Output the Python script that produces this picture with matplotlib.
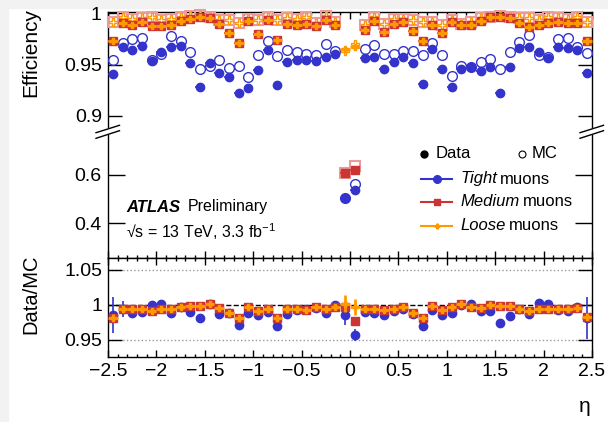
import numpy as np
import matplotlib.pyplot as plt
from matplotlib.lines import Line2D
from matplotlib.patches import Rectangle, Polygon
from matplotlib.ticker import MultipleLocator

plt.rcParams['font.family'] = ['Liberation Sans', 'DejaVu Sans']
plt.rcParams['mathtext.default'] = 'regular'

# eta bin centres (50 bins of 0.1 from -2.5 to 2.5)
eta = np.linspace(-2.45, 2.45, 50)

tight_data = [0.941, 0.967, 0.964, 0.968, 0.953, 0.962, 0.967, 0.968, 0.951, 0.928,
              0.951, 0.942, 0.938, 0.922, 0.927, 0.945, 0.964, 0.930, 0.952, 0.954,
              0.954, 0.953, 0.957, 0.960, 0.503, 0.538, 0.956, 0.957, 0.946, 0.952,
              0.957, 0.951, 0.931, 0.965, 0.946, 0.928, 0.946, 0.948, 0.944, 0.948,
              0.922, 0.948, 0.966, 0.967, 0.962, 0.956, 0.967, 0.966, 0.964, 0.942]
tight_mc = [0.954, 0.971, 0.975, 0.976, 0.954, 0.960, 0.978, 0.973, 0.962, 0.946,
            0.949, 0.954, 0.947, 0.949, 0.938, 0.959, 0.973, 0.958, 0.964, 0.962,
            0.960, 0.959, 0.970, 0.963, 0.505, 0.561, 0.965, 0.969, 0.960, 0.960,
            0.963, 0.963, 0.959, 0.971, 0.959, 0.939, 0.949, 0.948, 0.952, 0.955,
            0.946, 0.962, 0.972, 0.979, 0.959, 0.957, 0.975, 0.976, 0.967, 0.961]
medium_data = [0.973, 0.990, 0.988, 0.991, 0.987, 0.987, 0.988, 0.992, 0.994, 0.996,
               0.995, 0.989, 0.981, 0.971, 0.992, 0.980, 0.993, 0.974, 0.989, 0.988,
               0.989, 0.987, 0.993, 0.988, 0.607, 0.621, 0.984, 0.992, 0.982, 0.989,
               0.991, 0.983, 0.973, 0.988, 0.981, 0.991, 0.988, 0.988, 0.992, 0.996,
               0.996, 0.995, 0.990, 0.986, 0.988, 0.990, 0.991, 0.990, 0.990, 0.973]
medium_mc = [0.991, 0.996, 0.994, 0.995, 0.996, 0.993, 0.994, 0.996, 0.997, 0.998,
             0.996, 0.993, 0.993, 0.990, 0.994, 0.993, 0.996, 0.993, 0.995, 0.994,
             0.996, 0.990, 0.997, 0.991, 0.607, 0.638, 0.988, 0.996, 0.989, 0.994,
             0.994, 0.993, 0.991, 0.991, 0.988, 0.993, 0.989, 0.991, 0.995, 0.996,
             0.997, 0.996, 0.995, 0.995, 0.993, 0.996, 0.995, 0.994, 0.996, 0.991]
loose_data = [0.973, 0.990, 0.988, 0.991, 0.987, 0.987, 0.988, 0.992, 0.994, 0.996,
              0.995, 0.989, 0.981, 0.971, 0.992, 0.980, 0.993, 0.974, 0.989, 0.988,
              0.989, 0.987, 0.993, 0.988, 0.965, 0.967, 0.984, 0.992, 0.982, 0.989,
              0.991, 0.983, 0.973, 0.988, 0.981, 0.991, 0.988, 0.988, 0.992, 0.996,
              0.996, 0.995, 0.990, 0.986, 0.988, 0.990, 0.991, 0.990, 0.990, 0.973]
loose_mc = [0.991, 0.996, 0.994, 0.995, 0.996, 0.993, 0.994, 0.996, 0.997, 0.998,
            0.996, 0.993, 0.993, 0.990, 0.994, 0.993, 0.996, 0.993, 0.995, 0.994,
            0.996, 0.990, 0.997, 0.991, 0.963, 0.970, 0.988, 0.996, 0.989, 0.994,
            0.994, 0.993, 0.991, 0.991, 0.988, 0.993, 0.989, 0.991, 0.995, 0.996,
            0.997, 0.996, 0.995, 0.995, 0.993, 0.996, 0.995, 0.994, 0.996, 0.991]

tight_ratio = [0.986, 0.994, 0.988, 0.990, 1.000, 1.002, 0.989, 0.997, 0.990, 0.981,
               1.002, 0.987, 0.989, 0.972, 0.988, 0.985, 0.990, 0.970, 0.987, 0.993,
               0.994, 0.995, 0.988, 1.000, 0.986, 0.957, 0.990, 0.989, 0.986, 0.992,
               0.994, 0.987, 0.970, 0.993, 0.986, 0.988, 1.000, 1.001, 0.992, 0.992,
               0.974, 0.984, 0.994, 0.987, 1.003, 1.001, 0.993, 0.991, 0.997, 0.982]
tight_ratio_err = [0.026, 0.011, 0.004, 0.003, 0.003, 0.003, 0.003, 0.003, 0.003, 0.003,
                   0.003, 0.003, 0.003, 0.003, 0.003, 0.003, 0.003, 0.003, 0.003, 0.003,
                   0.003, 0.003, 0.003, 0.003, 0.015, 0.008, 0.003, 0.003, 0.003, 0.003,
                   0.003, 0.003, 0.003, 0.003, 0.003, 0.003, 0.003, 0.003, 0.003, 0.003,
                   0.003, 0.003, 0.003, 0.003, 0.003, 0.003, 0.003, 0.004, 0.006, 0.030]
medium_ratio = [0.982, 0.994, 0.994, 0.994, 0.992, 0.994, 0.994, 0.997, 0.998, 0.998,
                1.002, 0.995, 0.989, 0.981, 0.997, 0.992, 0.994, 0.981, 0.994, 0.994,
                0.993, 0.997, 0.994, 0.997, 0.997, 0.977, 0.994, 0.994, 0.993, 0.994,
                0.997, 0.988, 0.981, 0.998, 0.993, 0.997, 1.001, 0.997, 0.995, 1.000,
                0.999, 0.998, 0.994, 0.992, 0.994, 0.994, 0.994, 0.994, 0.995, 0.983]
loose_ratio = [0.982, 0.994, 0.994, 0.994, 0.992, 0.994, 0.994, 0.997, 0.998, 0.998,
               1.002, 0.995, 0.989, 0.981, 0.997, 0.992, 0.994, 0.981, 0.994, 0.994,
               0.993, 0.997, 0.994, 0.997, 1.002, 0.997, 0.994, 0.994, 0.993, 0.994,
               0.997, 0.988, 0.981, 0.998, 0.993, 0.997, 1.001, 0.997, 0.995, 1.000,
               0.999, 0.998, 0.994, 0.992, 0.994, 0.994, 0.994, 0.994, 0.995, 0.983]
loose_ratio_err = [0.005, 0.003, 0.002, 0.002, 0.002, 0.002, 0.002, 0.002, 0.002, 0.002,
                   0.002, 0.002, 0.002, 0.002, 0.002, 0.002, 0.002, 0.002, 0.002, 0.002,
                   0.002, 0.002, 0.002, 0.002, 0.012, 0.011, 0.002, 0.002, 0.002, 0.002,
                   0.002, 0.002, 0.002, 0.002, 0.002, 0.002, 0.002, 0.002, 0.002, 0.002,
                   0.002, 0.002, 0.002, 0.002, 0.002, 0.002, 0.002, 0.002, 0.003, 0.005]

blue = '#3434cc'
red = '#cc3333'
orange = '#ff9900'
pink = '#ec9a9a'

W, H = 608, 422
fig = plt.figure(figsize=(W / 100, H / 100), dpi=100)


def box(x0, y0, x1, y1):
    return [x0 / W, 1 - y1 / H, (x1 - x0) / W, (y1 - y0) / H]


def p(x, y):
    return (x / W, 1 - y / H)


# page background strips
fig.add_artist(Rectangle((0, 0), 8 / W, 1, transform=fig.transFigure,
                         color='#f2f2f2', zorder=-5))
fig.add_artist(Rectangle((0, 1 - 8 / H), 1, 8 / H, transform=fig.transFigure,
                         color='#f2f2f2', zorder=-5))

ax_hi = fig.add_axes(box(108, 12, 592, 131))
ax_lo = fig.add_axes(box(108, 131, 592, 258))
ax_r = fig.add_axes(box(108, 258, 592, 357))

for ax in (ax_hi, ax_lo, ax_r):
    ax.set_xlim(-2.5, 2.5)
    ax.xaxis.set_major_locator(MultipleLocator(0.5))
    ax.xaxis.set_minor_locator(MultipleLocator(0.1))
    ax.tick_params(which='both', direction='in', top=True, right=True,
                   labelsize=14, width=1, labelbottom=False)
    ax.tick_params(axis='x', which='major', length=5)
    ax.tick_params(axis='x', which='minor', length=2.5)
    ax.tick_params(axis='y', which='major', length=10, pad=4.5)
    ax.tick_params(axis='y', which='minor', left=False, right=False)
    for s in ax.spines.values():
        s.set_linewidth(1)

ax_hi.spines['bottom'].set_visible(False)
ax_hi.tick_params(which='both', bottom=False)
ax_lo.spines['top'].set_visible(False)
ax_lo.tick_params(which='both', top=False)
ax_lo.tick_params(axis='y', length=12.5)

ax_hi.set_ylim(0.8854, 1.001)
ax_hi.set_yticks([0.9, 0.95, 1.0])
ax_hi.set_yticklabels(['0.9', '0.95', '1'])
ax_lo.set_ylim(0.2542, 0.7833)
ax_lo.set_yticks([0.4, 0.6])
ax_lo.set_yticklabels(['0.4', '0.6'])
ax_r.set_ylim(0.9257, 1.0671)
ax_r.set_yticks([0.95, 1.0, 1.05])
ax_r.set_yticklabels(['0.95', '1', '1.05'])
ax_r.tick_params(labelbottom=True, pad=4)
ax_r.set_xticks([-2.5, -2, -1.5, -1, -0.5, 0, 0.5, 1, 1.5, 2, 2.5])
ax_r.set_xticklabels(['\u22122.5', '\u22122', '\u22121.5', '\u22121', '\u22120.5',
                      '0', '0.5', '1', '1.5', '2', '2.5'])


def draw(ax, keep):
    def m(v):
        v = np.array(v, dtype=float)
        return np.where(keep(v), v, np.nan)
    ax.plot(eta, m(tight_mc), 'o', ms=7, mfc='none', mec=blue, mew=1, clip_on=False, zorder=3)
    ax.plot(eta, m(medium_mc), 's', ms=6.5, mfc='none', mec=pink, mew=1.5, clip_on=False, zorder=3)
    ax.plot(eta, m(loose_mc), 'P', ms=6, mfc='white', mec=orange, mew=1, clip_on=False, zorder=3)
    ax.errorbar(eta, m(tight_data), xerr=0.05, fmt='o', ms=6, color=blue,
                elinewidth=1.2, capsize=0, clip_on=False, zorder=4)
    ax.errorbar(eta, m(medium_data), xerr=0.05, fmt='s', ms=5.5, color=red,
                elinewidth=1.2, capsize=0, clip_on=False, zorder=4)
    ax.errorbar(eta, m(loose_data), xerr=0.05, fmt='P', ms=4.5, color=orange,
                elinewidth=2, capsize=0, clip_on=False, zorder=5)


draw(ax_hi, lambda v: v > 0.85)
draw(ax_lo, lambda v: v < 0.8)

# ratio panel
ax_r.axhline(1.0, color='k', ls='--', lw=1, zorder=1)
for lvl in (0.95, 1.05):
    ax_r.axhline(lvl, color='#999999', ls=':', lw=1, zorder=1)
ax_r.errorbar(eta, tight_ratio, yerr=tight_ratio_err, fmt='o', ms=6, color=blue,
              elinewidth=1.2, capsize=0, zorder=3)
ax_r.errorbar(eta, medium_ratio, fmt='s', ms=5.5, color=red, zorder=4)
ax_r.errorbar(eta, loose_ratio, xerr=0.05, yerr=loose_ratio_err, fmt='P', ms=4.5,
              color=orange, elinewidth=2, capsize=0, zorder=5)

# axis titles
fig.text(31 / W, 1 - 8 / H, 'Efficiency', rotation=90, ha='center', va='top', fontsize=15)
fig.text(31 / W, 1 - 294 / H, 'Data/MC', rotation=90, ha='center', va='center', fontsize=14.5)
fig.text(*p(585, 406), '\u03b7', ha='center', va='center', fontsize=15)

# ATLAS label
fig.text(*p(126, 207), 'ATLAS', fontsize=12, fontweight='bold', fontstyle='italic',
         va='center')
fig.text(*p(188, 207), 'Preliminary', fontsize=11.5, va='center')
fig.text(*p(126, 232), '\u221as = 13 TeV, 3.3 fb$^{-1}$', fontsize=11.5, va='center')

# legend
fig.add_artist(Line2D([p(424, 154)[0]], [p(424, 154)[1]], marker='o', ms=5, color='k',
                      transform=fig.transFigure))
fig.text(*p(436, 154), 'Data', fontsize=12, va='center')
fig.add_artist(Line2D([p(522, 154)[0]], [p(522, 154)[1]], marker='o', ms=5, mfc='none',
                      mec='k', mew=0.8, transform=fig.transFigure))
fig.text(*p(532, 154), 'MC', fontsize=12, va='center')
for y, c, mk, ms, name in [(179, blue, 'o', 5.5, 'Tight'),
                           (202, red, 's', 5, 'Medium'),
                           (226, orange, 'P', 3.5, 'Loose')]:
    (x0, yy), (x1, _) = p(421, y), p(452, y)
    fig.add_artist(Line2D([x0, x1], [yy, yy], color=c, lw=1.5, transform=fig.transFigure))
    fig.add_artist(Line2D([(x0 + x1) / 2], [yy], marker=mk, ms=ms, color=c,
                          transform=fig.transFigure))
    t = fig.text(*p(460, y), name, fontsize=12, fontstyle='italic', va='center')
    fig.canvas.draw()
    bb = t.get_window_extent()
    fig.text(bb.x1 / W + 3.5 / W, yy, 'muons', fontsize=12, va='center')

# axis break marks
for xc in (108, 592):
    a = p(xc - 12, 132.7)
    b = p(xc + 11.5, 125.3)
    c = p(xc + 11.5, 130.7)
    d = p(xc - 12, 138.3)
    fig.add_artist(Polygon([a, b, c, d], closed=True, transform=fig.transFigure,
                           color='white', zorder=10))
    fig.add_artist(Line2D([a[0], b[0]], [a[1], b[1]], color='k', lw=1,
                          transform=fig.transFigure, zorder=11))
    fig.add_artist(Line2D([d[0], c[0]], [d[1], c[1]], color='k', lw=1,
                          transform=fig.transFigure, zorder=11))

fig.savefig('out.png', dpi=100)
